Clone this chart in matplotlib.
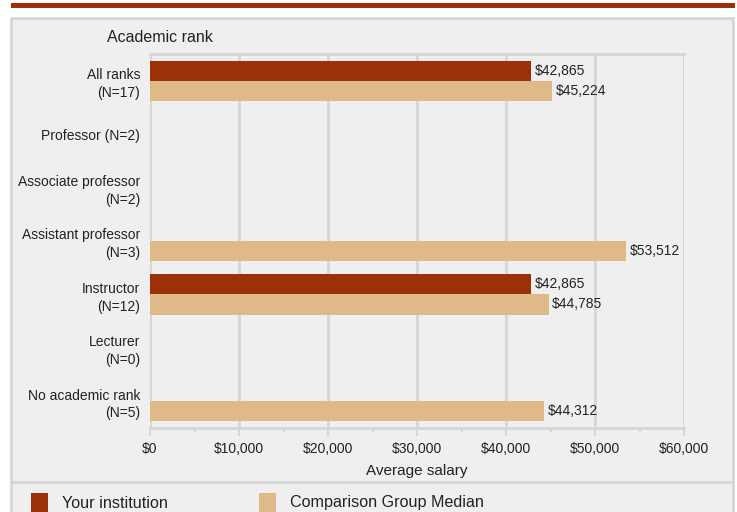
import numpy as np
import matplotlib
matplotlib.use('Agg')
from matplotlib import pyplot as plt
from matplotlib.patches import Rectangle
from matplotlib.lines import Line2D

plt.rcParams['font.family'] = ['Liberation Sans', 'DejaVu Sans']

categories = ['All ranks\n(N=17)', 'Professor (N=2)', 'Associate professor\n(N=2)',
              'Assistant professor\n(N=3)', 'Instructor\n(N=12)', 'Lecturer\n(N=0)',
              'No academic rank\n(N=5)']
your_inst = [42865, None, None, None, 42865, None, None]
comparison = [45224, None, None, 53512, 44785, None, 44312]
xticks = [0, 10000, 20000, 30000, 40000, 50000, 60000]
xtick_labels = ['$0', '$10,000', '$20,000', '$30,000', '$40,000', '$50,000', '$60,000']

DARK = '#9c3108'
TAN = '#e0b988'
PANEL = '#efefef'
EDGE = '#d6d6d6'

W, H = 737, 512
fig = plt.figure(figsize=(W / 100, H / 100), dpi=100)
fig.patch.set_facecolor('white')

def fx(px):
    return px / W

def fy(py):
    return 1 - py / H

# top strip and panel
fig.patches.append(Rectangle((fx(11), fy(7.5)), fx(724), 4.5 / H, transform=fig.transFigure,
                             facecolor=DARK, edgecolor='none', zorder=-2))
fig.patches.append(Rectangle((fx(11), fy(520)), fx(722), (520 - 17.5) / H, transform=fig.transFigure,
                             facecolor=PANEL, edgecolor=EDGE, linewidth=2, zorder=-2))
fig.lines.append(Line2D([fx(11), fx(733)], [fy(482), fy(482)], transform=fig.transFigure,
                        color=EDGE, linewidth=2, zorder=-1))

ax = fig.add_axes([fx(150), fy(427.7), fx(684 - 150), (427.7 - 54.3) / H])
ax.set_zorder(5)
ax.set_facecolor(PANEL)

y = np.arange(len(categories))
h = 0.38
for i in range(len(categories)):
    if your_inst[i] is not None:
        ax.barh(y[i] - h / 2, your_inst[i], height=h, color=DARK, zorder=3)
        ax.text(your_inst[i] + 350, y[i] - h / 2, '${:,}'.format(your_inst[i]),
                va='center', ha='left', fontsize=10, color='#222222', zorder=4)
    if comparison[i] is not None:
        ax.barh(y[i] + h / 2, comparison[i], height=h, color=TAN, zorder=3)
        ax.text(comparison[i] + 350, y[i] + h / 2, '${:,}'.format(comparison[i]),
                va='center', ha='left', fontsize=10, color='#222222', zorder=4)

ax.set_xlim(0, 60000)
ax.set_ylim(len(categories) - 0.5, -0.5)
ax.set_yticks(y)
ax.set_yticklabels(categories, fontsize=10, color='#222222', linespacing=1.35)
ax.tick_params(axis='y', length=0, pad=7)
ax.set_xticks(xticks)
ax.set_xticklabels(xtick_labels, fontsize=10, color='#222222')
ax.set_xticks(np.arange(5000, 60000, 10000), minor=True)
ax.tick_params(axis='x', which='major', length=6, width=1.5, color=EDGE, pad=4)
ax.tick_params(axis='x', which='minor', length=3, width=1.5, color=EDGE)
ax.grid(axis='x', color=EDGE, linewidth=2, zorder=0)
ax.set_axisbelow(True)
for s in ['left', 'right']:
    ax.spines[s].set_visible(False)
for s in ['top', 'bottom']:
    ax.spines[s].set_color(EDGE)
    ax.spines[s].set_linewidth(2)
ax.set_xlabel('Average salary', fontsize=11, color='#222222', labelpad=6)

fig.text(fx(107), fy(37), 'Academic rank', fontsize=11.5, color='#222222', va='center', ha='left')

# legend
fig.patches.append(Rectangle((fx(31), fy(515)), fx(17), 22 / H, transform=fig.transFigure,
                             facecolor=DARK, edgecolor='none'))
fig.text(fx(62), fy(503), 'Your institution', fontsize=11.6, color='#222222', va='center', ha='left')
fig.patches.append(Rectangle((fx(259), fy(515)), fx(17), 22 / H, transform=fig.transFigure,
                             facecolor=TAN, edgecolor='none'))
fig.text(fx(290), fy(503), 'Comparison Group Median', fontsize=11.6, color='#222222', va='center', ha='left')

fig.savefig('out.png', dpi=100, facecolor=fig.get_facecolor())
